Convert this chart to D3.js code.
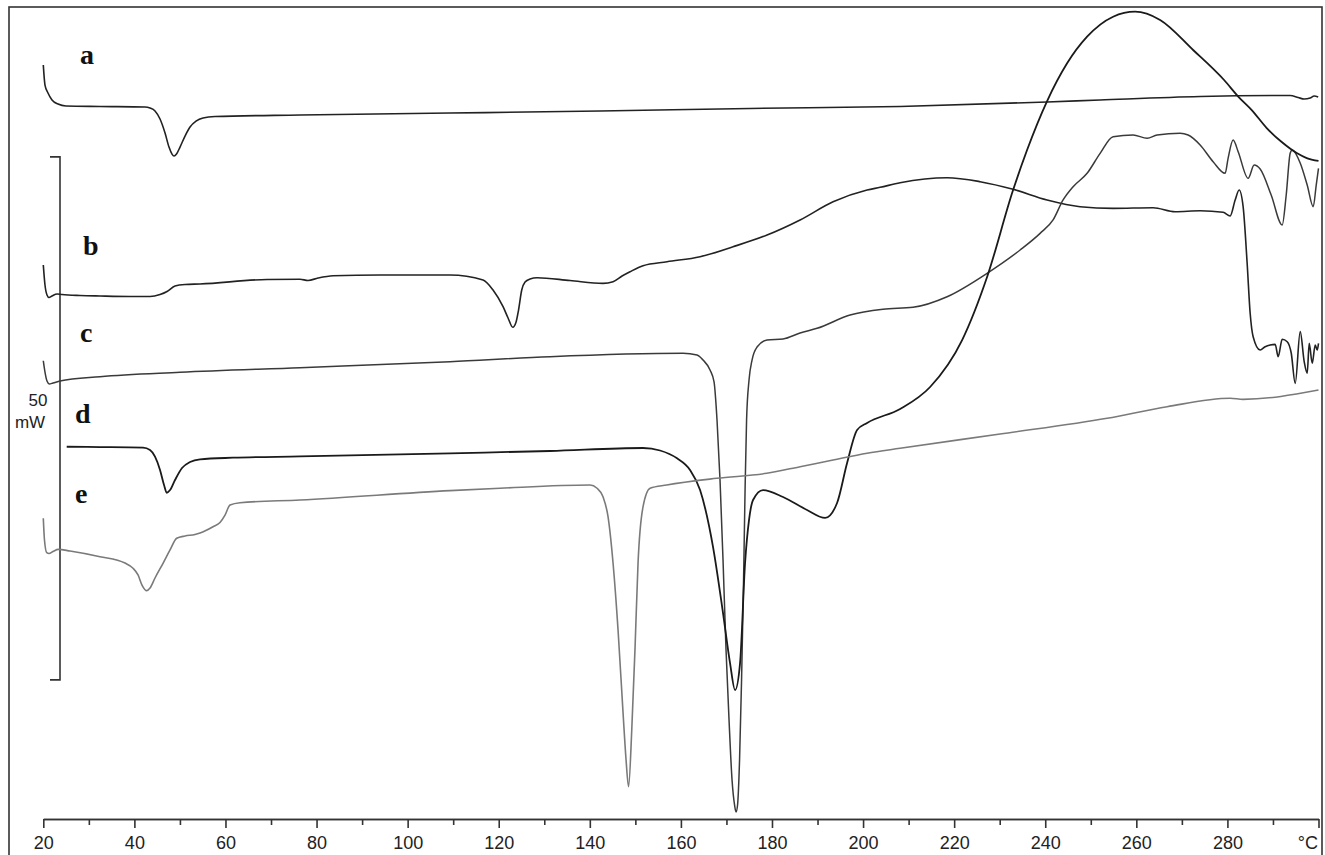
<!DOCTYPE html>
<html>
<head>
<meta charset="utf-8">
<script src="https://cdn.jsdelivr.net/npm/d3@7"></script>
<style>
  body { margin: 0; background: #fff; }
  svg { display: block; }
</style>
</head>
<body>
<script>
////////////////////////////////////////////////// DATA //////////////////////////////////////////////////
// DSC curves, [temperature °C, heat flow mW] (each curve has its own offset)
var curveA = [
  [20.0, 72.08], [20.37, 70.17], [21.03, 69.41], [21.91, 68.74], [23.23, 68.36], [24.98, 68.17],
  [32.45, 68.12], [42.33, 68.07], [43.43, 67.97], [44.53, 67.69], [45.63, 66.92], [46.73, 65.58],
  [47.6, 64.24], [48.26, 63.57], [48.7, 63.38], [49.25, 63.57], [50.02, 64.24], [51.12, 65.29],
  [52.22, 66.15], [53.53, 66.71], [55.07, 67.02], [57.71, 67.16], [76.37, 67.3], [109.31, 67.49],
  [142.25, 67.69], [175.19, 67.93], [208.13, 68.12], [240.41, 68.55], [252.05, 68.74], [274.01, 69.07],
  [293.78, 69.17], [295.53, 68.98], [296.85, 68.83], [298.17, 68.93], [299.05, 69.12], [299.93, 69.02]
];

var curveB = [
  [20.0, 52.96], [20.37, 51.05], [20.81, 50.1], [21.25, 49.86], [21.91, 50.0], [23.01, 50.19],
  [24.11, 50.14], [28.06, 50.05], [32.45, 50.0], [39.04, 49.95], [43.43, 49.95], [45.63, 50.14],
  [47.17, 50.43], [48.92, 50.96], [51.12, 51.1], [54.41, 51.15], [69.13, 51.58], [76.37, 51.6],
  [78.13, 51.48], [80.32, 51.72], [83.62, 51.94], [93.94, 52.01], [109.31, 52.01], [116.56, 51.53],
  [118.75, 50.57], [120.95, 48.98], [122.05, 47.9], [123.08, 47.01], [123.81, 47.51], [124.35, 48.66],
  [125.05, 50.57], [125.78, 51.34], [126.88, 51.63], [128.41, 51.75], [135.66, 51.48], [142.9, 51.21],
  [145.1, 51.37], [147.08, 51.91], [148.83, 52.32], [151.69, 52.9], [156.96, 53.28], [164.21, 53.76],
  [171.45, 54.71], [178.92, 55.83], [186.17, 57.27], [193.41, 59.01], [200.88, 60.13], [203.74, 60.39],
  [208.13, 60.83], [218.45, 61.31], [225.7, 60.93], [232.94, 60.2], [240.41, 59.18], [247.65, 58.54],
  [254.9, 58.38], [263.69, 58.44], [268.52, 58.06], [274.01, 58.15], [279.06, 58.0], [280.6, 57.65],
  [281.7, 59.18], [282.58, 60.13], [283.45, 58.54], [284.33, 53.15], [284.99, 48.37], [285.65, 46.11],
  [287.19, 44.84], [288.29, 45.15], [289.39, 45.32], [290.49, 45.38], [291.15, 44.2], [292.03, 45.86],
  [293.13, 45.63], [294.01, 44.55], [294.89, 41.65], [295.98, 46.59], [296.86, 43.72], [297.52, 42.61],
  [297.96, 45.48], [298.62, 43.57], [299.28, 45.32], [299.72, 44.84], [300.0, 45.48]
];

var curveC = [
  [20.0, 43.81], [20.37, 42.73], [20.81, 41.87], [21.32, 41.59], [22.13, 41.68], [23.67, 41.87],
  [32.45, 42.29], [50.02, 42.71], [76.37, 43.15], [109.31, 43.72], [131.27, 44.2], [160.47, 44.52],
  [163.54, 44.36], [164.86, 43.88], [166.4, 42.93], [167.28, 41.78], [167.93, 38.15], [168.59, 32.41],
  [169.25, 24.76], [169.91, 16.16], [170.57, 9.46], [171.23, 3.73], [171.78, 1.34], [172.11, 0.67],
  [172.44, 1.34], [172.88, 5.64], [173.32, 13.29], [173.76, 22.85], [174.09, 31.45], [174.42, 38.15],
  [174.96, 41.97], [175.62, 43.88], [176.72, 45.12], [178.92, 45.79], [182.43, 45.89], [186.17, 46.46],
  [189.9, 46.91], [197.15, 48.18], [204.39, 48.73], [210.98, 48.92], [218.45, 49.93], [227.23, 52.17],
  [234.48, 54.4], [238.87, 55.99], [241.72, 57.27], [243.92, 59.18], [246.12, 60.45], [249.19, 61.73],
  [252.05, 63.64], [254.9, 65.23], [259.29, 65.39], [262.37, 65.08], [264.56, 65.39], [269.61, 65.55],
  [271.37, 65.39], [274.01, 64.44], [276.86, 62.84], [279.5, 61.73], [280.16, 63.19], [281.26, 64.91],
  [282.36, 63.8], [284.55, 61.25], [285.87, 62.52], [287.19, 62.14], [289.61, 59.66], [292.03, 56.79],
  [292.91, 59.66], [293.78, 63.64], [294.22, 63.96], [295.98, 62.72], [297.52, 60.61], [298.84, 58.54],
  [299.5, 60.61], [300.0, 62.21]
];

var curveD = [
  [25.14, 35.59], [32.45, 35.56], [41.89, 35.5], [43.43, 35.28], [44.53, 34.64], [45.63, 33.37],
  [46.51, 31.93], [47.1, 31.19], [47.83, 31.45], [48.92, 32.41], [50.46, 33.56], [52.22, 34.13],
  [54.41, 34.39], [61.66, 34.54], [76.37, 34.66], [109.31, 34.96], [131.27, 35.18], [151.69, 35.47],
  [155.42, 35.23], [159.15, 34.48], [162.0, 33.37], [164.21, 31.45], [167.06, 26.0], [169.25, 19.69],
  [170.79, 14.91], [171.89, 12.33], [172.99, 14.91], [174.09, 24.47], [174.96, 28.59], [175.84, 30.5],
  [178.04, 31.45], [182.43, 30.78], [187.7, 29.54], [191.66, 28.78], [194.29, 30.21], [196.49, 34.03],
  [198.69, 37.19], [200.88, 37.86], [208.13, 39.2], [214.72, 41.3], [221.75, 45.79], [227.23, 51.82],
  [232.94, 60.13], [236.01, 63.96], [240.41, 68.64], [244.8, 72.25], [249.19, 74.79], [254.9, 76.7],
  [259.73, 77.18], [265.22, 76.39], [272.47, 73.52], [279.27, 70.65], [282.48, 69.02], [285.34, 67.78],
  [288.63, 66.06], [291.93, 64.72], [295.22, 63.67], [297.42, 63.19], [300.0, 62.91]
];

var curveE = [
  [20.0, 28.75], [20.26, 26.67], [20.75, 25.46], [21.25, 25.38], [22.13, 25.57], [23.29, 25.78],
  [25.86, 25.62], [32.45, 25.08], [37.94, 24.47], [39.7, 23.97], [40.8, 23.33], [41.67, 22.37],
  [42.71, 21.83], [43.43, 22.08], [44.53, 23.04], [46.29, 24.45], [47.83, 25.72], [49.29, 26.84],
  [51.12, 27.06], [53.31, 27.2], [54.41, 27.34], [57.27, 27.94], [58.8, 28.35], [59.9, 29.06],
  [61.0, 30.02], [63.19, 30.24], [76.37, 30.5], [109.31, 31.39], [120.29, 31.62], [140.05, 31.93],
  [141.59, 31.62], [142.9, 30.81], [144.0, 28.9], [145.1, 24.47], [146.2, 18.07], [147.3, 10.13],
  [147.96, 5.64], [148.51, 3.09], [149.21, 8.51], [149.94, 16.47], [150.59, 24.47], [151.69, 29.86],
  [153.23, 31.62], [156.89, 31.93], [167.87, 32.57], [178.85, 33.05], [186.17, 33.68], [193.41, 34.32],
  [200.88, 34.96], [208.13, 35.44], [230.09, 36.81], [253.59, 38.31], [266.76, 39.42], [280.6, 40.22],
  [283.45, 40.12], [300.0, 41.01]
];

var curveNames = ['a', 'b', 'c', 'd', 'e'];
var majorTicks = d3.range(20, 301, 20);
var minorTicks = d3.range(30, 300, 20);
var scaleBarLow = 13.3, scaleBarMw = 50;   // 50 mW bar

////////////////////////////////////////////////// SETUP //////////////////////////////////////////////////
var width = 1325,
    height = 855;

var svg = d3.select("body").append("svg")
    .attr("width", width)
    .attr("height", height);

var x = d3.scaleLinear().domain([20, 300]).range([43.3, 1318.5]);
var y = d3.scaleLinear().domain([0, 77.63]).range([819, 7]);

// frame (bottom edge is off the picture)
svg.append("rect")
    .attr("x", 9).attr("y", 7)
    .attr("width", 1313).attr("height", 870)
    .attr("fill", "none")
    .attr("stroke", "#333")
    .attr("stroke-width", 1.6);

////////////////////////////////////////////////// AXIS //////////////////////////////////////////////////
var minorAxis = d3.axisBottom(x)
    .tickValues(minorTicks)
    .tickSize(6)
    .tickSizeOuter(0)
    .tickFormat("");

var majorAxis = d3.axisBottom(x)
    .tickValues(majorTicks)
    .tickSize(9)
    .tickSizeOuter(0)
    .tickPadding(8)
    .tickFormat(function (d) { return d == 300 ? "°C" : d; });

svg.append("g").attr("transform", "translate(0,819)").call(minorAxis);
var gx = svg.append("g").attr("transform", "translate(0,819)").call(majorAxis);

svg.selectAll(".domain, .tick line")
    .attr("stroke", "#333")
    .attr("stroke-width", 1.6);

gx.selectAll("text")
    .attr("fill", "#222")
    .style("font-family", "'Liberation Sans', Arial, sans-serif")
    .style("font-size", "18px");
gx.selectAll("text").filter(function (d) { return d == 300; })
    .attr("text-anchor", "end")
    .attr("x", -1);

////////////////////////////////////////////////// SCALE BAR //////////////////////////////////////////////////
var barX = 60;
svg.append("path")
    .attr("d", "M" + (barX - 10) + "," + y(scaleBarLow + scaleBarMw) +
               "H" + barX + "V" + y(scaleBarLow) + "H" + (barX - 10))
    .attr("fill", "none")
    .attr("stroke", "#333")
    .attr("stroke-width", 1.6);

svg.append("text")
    .attr("x", 38).attr("y", 406)
    .attr("text-anchor", "middle")
    .style("font-family", "'Liberation Sans', Arial, sans-serif")
    .style("font-size", "17px")
    .attr("fill", "#222")
    .text(scaleBarMw);
svg.append("text")
    .attr("x", 30).attr("y", 428)
    .attr("text-anchor", "middle")
    .style("font-family", "'Liberation Sans', Arial, sans-serif")
    .style("font-size", "17px")
    .attr("fill", "#222")
    .text("mW");

////////////////////////////////////////////////// CURVES //////////////////////////////////////////////////
var line = d3.line()
    .x(function (d) { return x(d[0]); })
    .y(function (d) { return y(d[1]); })
    .curve(d3.curveMonotoneX);

var curves = [
    { data: curveA, color: "#222", w: 1.6 },
    { data: curveB, color: "#222", w: 1.6 },
    { data: curveC, color: "#3a3a3a", w: 1.5 },
    { data: curveD, color: "#1a1a1a", w: 1.8 },
    { data: curveE, color: "#7a7a7a", w: 1.6 }
];

svg.selectAll("path.curve")
    .data(curves)
    .enter()
    .append("path")
    .attr("class", "curve")
    .attr("fill", "none")
    .attr("stroke", function (d) { return d.color; })
    .attr("stroke-width", function (d) { return d.w; })
    .attr("stroke-linejoin", "round")
    .attr("d", function (d) { return line(d.data); });

// curve letters
var labelPos = [[80, 64], [83, 255], [80, 342], [75, 423], [75, 503]];
svg.selectAll("text.lbl")
    .data(curveNames)
    .enter()
    .append("text")
    .attr("class", "lbl")
    .attr("x", function (d, i) { return labelPos[i][0]; })
    .attr("y", function (d, i) { return labelPos[i][1]; })
    .style("font-family", "'Liberation Serif', 'Times New Roman', serif")
    .style("font-weight", "bold")
    .style("font-size", "28px")
    .attr("fill", "#111")
    .text(function (d) { return d; });
</script>
</body>
</html>
